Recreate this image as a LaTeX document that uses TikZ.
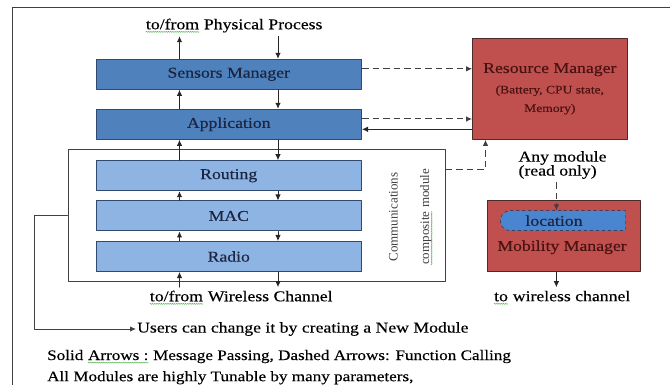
\documentclass[tikz,border=0pt]{standalone}
\usepackage{fontspec}
\setmainfont{Liberation Serif}[FakeStretch=1.18, FakeBold=0.3]
\newfontfamily\tallserif{Liberation Serif}
\usetikzlibrary{arrows.meta,shapes.misc,decorations.pathmorphing}

\definecolor{sensblue}{HTML}{4F81BD}
\definecolor{commblue}{HTML}{8EB4E3}
\definecolor{locblue}{HTML}{4A86D0}
\definecolor{bluerim}{HTML}{2F4A6E}
\definecolor{boxtext}{HTML}{1B2440}
\definecolor{redfill}{HTML}{C0504D}
\definecolor{redrim}{HTML}{4D2A2A}
\definecolor{redtext}{HTML}{4A1212}
\definecolor{linegray}{HTML}{262626}
\definecolor{dashgray}{HTML}{404040}
\definecolor{framegray}{HTML}{404040}
\definecolor{spellgreen}{HTML}{5FB85F}

\newcommand{\lbl}{\fontsize{15}{17}\selectfont}
\newcommand{\notefont}{\fontsize{14.5}{17}\selectfont}
% 拼写检查的绿色波浪线
\newcommand{\spellmark}[1]{\tikz[baseline=(w.base), x=1pt, y=1pt]{%
  \node[inner sep=0pt, anchor=base, rotate=0, draw=none, fill=none] (w) at (0,0) {#1};
  \draw[spellgreen, line width=0.5pt, decorate,
    decoration={snake, amplitude=0.6pt, segment length=2.2pt}]
    ([yshift=-2.6pt]w.base west) -- ([yshift=-2.6pt]w.base east);}}

\begin{document}
\begin{tikzpicture}[x=1pt, y=-1pt, line cap=round, line join=round,
    layer/.style={draw=bluerim, line width=1pt, minimum width=265.5pt,
      minimum height=30pt, inner sep=0pt, text=boxtext, font=\lbl},
    upper/.style={layer, fill=sensblue},
    lower/.style={layer, fill=commblue},
    manager/.style={draw=redrim, fill=redfill, line width=1pt, inner sep=0pt, text=redtext},
    msg/.style={draw=linegray, line width=0.9pt, -{Latex[length=6pt,width=5.5pt]}},
    call/.style={msg, draw=dashgray, line width=1pt, line cap=butt, dash pattern=on 6.5pt off 4pt}]
  \useasboundingbox (0,0) rectangle (670,385);
  % 外框
  \draw[framegray, line width=0.9pt] (12,385) -- (12,7.5) -- (670,7.5);
  \coordinate (ux) at (179.5,0);
  \coordinate (dx) at (278,0);
  \coordinate (lx) at (556.4,0);
  % 协议栈
  \node[font=\lbl] (phys) at (234,25.7) {\spellmark{to/from} Physical Process};
  \node[upper] (sens) at (228.75,74.3) {Sensors Manager};
  \node[upper] (app) at (228.75,124.3) {Application};
  \node[draw=framegray, line width=1pt, minimum width=377pt, minimum height=131.7pt,
    inner sep=0pt] (comm) at (256.5,215.85) {};
  \node[lower] (rout) at (228.75,175.7) {Routing};
  \node[lower] (mac) at (228.75,216) {MAC};
  \node[lower] (radio) at (228.75,256.5) {Radio};
  \node[rotate=90, align=center, text=framegray,
    font=\tallserif\fontsize{13}{31.5}\selectfont] (commlbl) at (410.7,217)
    {Communications\\\spellmark{composite} module};
  \node[font=\lbl] (wire) at (241,297.7) {\spellmark{to/from} Wireless Channel};
  \draw[msg] (sens.north -| ux) -- (phys.south -| ux);
  \draw[msg] (phys.south -| dx) -- (sens.north -| dx);
  \foreach \lo/\hi in {app/sens, rout/app, mac/rout, radio/mac} {
    \draw[msg] (\lo.north -| ux) -- (\hi.south -| ux);
    \draw[msg] (\hi.south -| dx) -- (\lo.north -| dx);
  }
  \draw[msg] (wire.north -| ux) -- (radio.south -| ux);
  \draw[msg] (radio.south -| dx) -- (wire.north -| dx);
  % 资源管理
  \node[manager, minimum width=154.4pt, minimum height=101pt, align=center,
    font=\fontsize{11.5}{18.5}\selectfont] (res) at (549.8,88.8)
    {{\lbl Resource Manager}\\[2pt](Battery, CPU state,\\Memory)};
  \draw[call] ([yshift=5.5pt]sens.east) -- ([yshift=5.5pt]sens.east -| res.west);
  \draw[call] ([yshift=5.3pt]app.east) -- ([yshift=5.3pt]app.east -| res.west);
  \draw[msg] ([yshift=-5pt]app.east -| res.west) -- ([yshift=-5pt]app.east);
  \draw[call] ([yshift=-20pt]comm.north east) -| ([xshift=13.4pt]res.south west);
  % 移动管理
  \node[font=\fontsize{15}{14}\selectfont, align=left, anchor=west] (anym) at (515,165)
    {Any module\\(read only)};
  \node[manager, minimum width=153pt, minimum height=71pt] (mob) at (563.5,236.2) {};
  \node[rounded rectangle, rounded rectangle right arc=none, draw=boxtext, dashed,
    fill=locblue, minimum width=125pt, minimum height=20pt, inner sep=0pt,
    font=\lbl, text=boxtext] (loc) at (563.5,220.7) {\hspace*{-19pt}location};
  \node[font=\lbl, text=redtext] (mobl) at (562,247.3) {Mobility Manager};
  \node[font=\lbl] (chan) at (562,297.7) {\spellmark{to} wireless channel};
  \draw[call] (anym.south -| lx) -- (loc.north -| lx);
  \draw[msg] (mob.south -| lx) -- (chan.north -| lx);
  % 说明
  \node[font=\lbl, anchor=west, inner sep=1pt] (users) at (136,329)
    {Users can change it by creating a New Module};
  \coordinate (ucorner) at (34,329);
  \draw[msg, draw=framegray] (comm.west) -| (ucorner) -- (users.west);
  \node[font=\notefont, anchor=west, inner sep=0pt] (note1) at (47,356.7)
    {Solid \spellmark{Arrows :} Message Passing, Dashed Arrows: Function Calling};
  \node[font=\notefont, anchor=west, inner sep=0pt] (note2) at (47,377.7)
    {All Modules are highly Tunable by many parameters,};
\end{tikzpicture}
\end{document}
